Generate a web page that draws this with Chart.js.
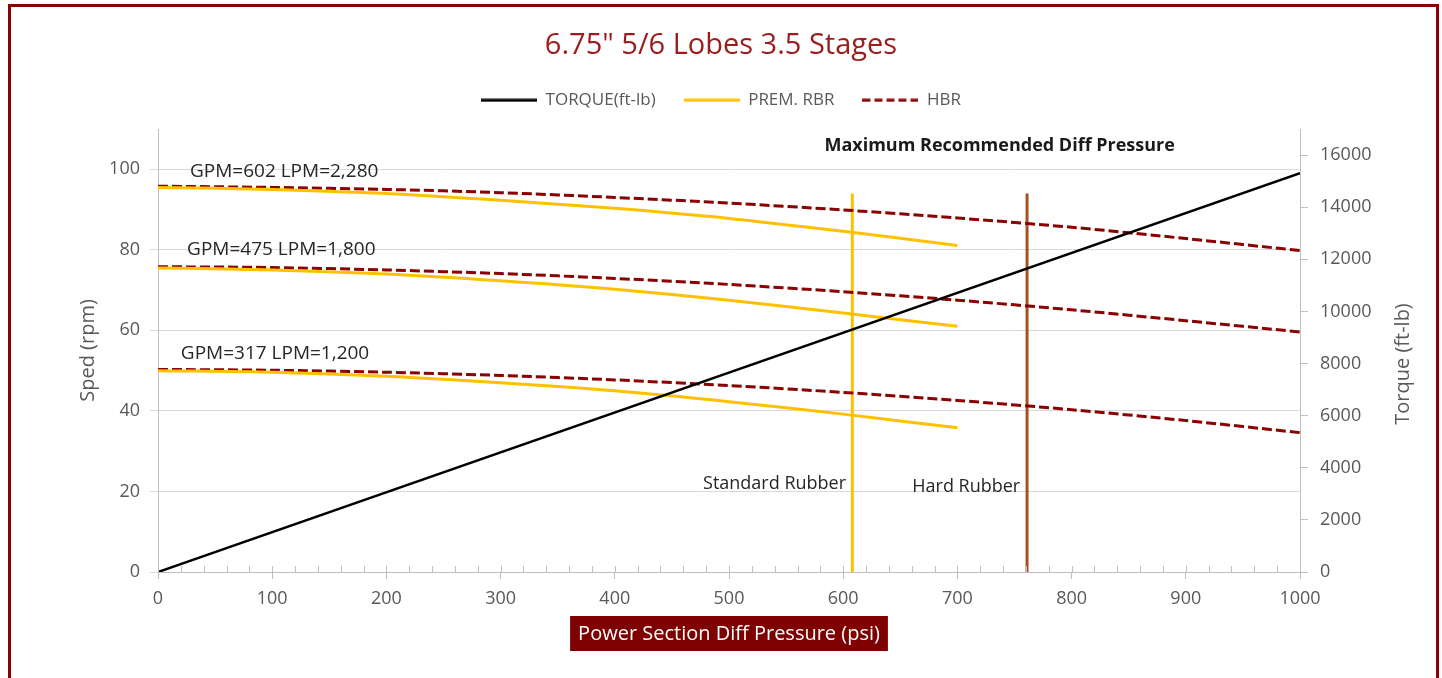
<!DOCTYPE html>
<html>
<head>
<meta charset="utf-8">
<script src="https://cdn.jsdelivr.net/npm/chart.js@4.4.1/dist/chart.umd.min.js"></script>
<style>
  html, body { margin: 0; padding: 0; background: #fff; }
  #wrap { position: relative; width: 1442px; height: 678px; overflow: hidden; }
  #chart { position: absolute; left: 0; top: 0; }
  #frame {
    position: absolute; left: 8px; top: 4px; width: 1425px; height: 700px;
    border: 3px solid #8b0000; border-bottom: none; pointer-events: none;
  }
</style>
</head>
<body>
<div id="wrap">
  <canvas id="chart" width="1442" height="678"></canvas>
  <div id="frame"></div>
</div>
<script>
/* ===== DATA ===== */
const pressShort = [0, 100, 200, 300, 400, 500, 600, 700];
const pressLong = [0, 100, 200, 300, 400, 500, 600, 700, 800, 900, 1000];

// PREM. RBR speed (rpm), 0-700 psi
const premHigh = [95.5, 95.0, 94.0, 92.3, 90.3, 87.8, 84.6, 81.1];
const premMid = [75.5, 75.0, 74.0, 72.3, 70.2, 67.5, 64.3, 61.0];
const premLow = [50.0, 49.6, 48.6, 47.0, 45.0, 42.3, 39.2, 35.8];

// HBR speed (rpm), 0-1000 psi
const hbrHigh = [95.8, 95.5, 95.0, 94.2, 93.0, 91.6, 89.9, 87.9, 85.6, 82.8, 79.8];
const hbrMid = [75.8, 75.6, 75.0, 74.1, 72.9, 71.4, 69.6, 67.5, 65.1, 62.4, 59.6];
const hbrLow = [50.3, 50.1, 49.6, 48.8, 47.7, 46.3, 44.6, 42.6, 40.3, 37.6, 34.6];

// torque (ft-lb)
const torquePress = [0, 1000];
const torqueVals = [0, 15300];

// max recommended diff pressure markers (psi)
const standardPsi = 608;
const hardPsi = 761;
const markerRpm = [0, 94];

// tick labels
const xTickVals = [0, 100, 200, 300, 400, 500, 600, 700, 800, 900, 1000];
const speedTickVals = [0, 20, 40, 60, 80, 100];
const torqueTickVals = [0, 2000, 4000, 6000, 8000, 10000, 12000, 14000, 16000];
const speedMax = 110;
const torqueMax = 17000;
const minorStep = 20;

// text notes [text, psi, rpm, align, bold]
const notes = [
  ["Maximum Recommended Diff Pressure", 737, 105.7, "center", true],
  ["GPM=602 LPM=2,280", 28, 99.5, "left", false],
  ["GPM=475 LPM=1,800", 25.5, 80.1, "left", false],
  ["GPM=317 LPM=1,200", 20, 54.3, "left", false],
  ["Standard Rubber", 602.5, 21.8, "right", false],
  ["Hard Rubber", 755, 21.1, "right", false],
];

/* ===== HELPERS ===== */
const FONT = "'Open Sans', 'DejaVu Sans', sans-serif";
const GREY = "#595959";
const GOLD = "#ffc000";
const HBR = "#8b0000";
const HBR_DASH = [10, 4];

function pts(xs, ys) {
  return xs.map((x, i) => ({ x, y: ys[i] }));
}

// small canvas used as the legend line sample
function swatch(color, width, dash) {
  const c = document.createElement("canvas");
  c.width = 56;
  c.height = 4;
  const g = c.getContext("2d");
  g.strokeStyle = color;
  g.lineWidth = width;
  g.setLineDash(dash || []);
  g.beginPath();
  g.moveTo(0, 2);
  g.lineTo(56, 2);
  g.stroke();
  return c;
}

function lineSet(label, xs, ys, color, extra) {
  return Object.assign({
    label,
    data: pts(xs, ys),
    borderColor: color,
    backgroundColor: color,
    borderWidth: 3,
    pointRadius: 0,
    tension: 0.3,
    fill: false,
    yAxisID: "y",
  }, extra || {});
}

const hbrStyle = { borderDash: HBR_DASH };

const datasets = [
  lineSet("TORQUE(ft-lb)", torquePress, torqueVals, "#000000",
    { yAxisID: "y1", tension: 0, borderWidth: 2.5, pointStyle: swatch("#000", 3) }),
  lineSet("PREM. RBR", pressShort, premHigh, GOLD, { pointStyle: swatch(GOLD, 3) }),
  lineSet("HBR", pressLong, hbrHigh, HBR, Object.assign({ pointStyle: swatch(HBR, 3, [8, 4]) }, hbrStyle)),
  lineSet("PREM. RBR mid", pressShort, premMid, GOLD),
  lineSet("HBR mid", pressLong, hbrMid, HBR, hbrStyle),
  lineSet("PREM. RBR low", pressShort, premLow, GOLD),
  lineSet("HBR low", pressLong, hbrLow, HBR, hbrStyle),
  lineSet("Standard", [standardPsi, standardPsi], markerRpm, GOLD, { tension: 0 }),
  lineSet("Hard", [hardPsi, hardPsi], markerRpm, "#a5521f", { tension: 0 }),
];
const LEGEND_IDX = [0, 1, 2];

/* ===== PLUGINS ===== */
const extras = {
  id: "extras",
  afterDraw(chart) {
    const { ctx, chartArea, scales } = chart;
    const x = scales.x, y = scales.y;
    ctx.save();

    // minor ticks on the x axis (inside)
    ctx.strokeStyle = "#bfbfbf";
    ctx.lineWidth = 1;
    for (let v = 0; v <= xTickVals[xTickVals.length - 1]; v += minorStep) {
      const px = Math.round(x.getPixelForValue(v)) + 0.5;
      ctx.beginPath();
      ctx.moveTo(px, chartArea.bottom);
      ctx.lineTo(px, chartArea.bottom - 6);
      ctx.stroke();
    }

    // notes
    ctx.textBaseline = "middle";
    notes.forEach(([t, px, py, align, bold]) => {
      ctx.font = bold ? "bold 18px " + FONT : (t.startsWith("GPM") ? "19px " : "18px ") + FONT;
      ctx.fillStyle = bold ? "#1a1a1a" : "#262626";
      ctx.textAlign = align;
      ctx.fillText(t, x.getPixelForValue(px), y.getPixelForValue(py));
    });

    // right axis title, reading bottom to top
    ctx.font = "20px " + FONT;
    ctx.fillStyle = GREY;
    ctx.textAlign = "center";
    ctx.translate(1403, 364);
    ctx.rotate(-Math.PI / 2);
    ctx.fillText("Torque (ft-lb)", 0, 0);
    ctx.setTransform(1, 0, 0, 1, 0, 0);

    // x axis title in a dark red box
    const title = "Power Section Diff Pressure (psi)";
    ctx.font = "20px " + FONT;
    const w = ctx.measureText(title).width + 16;
    const cx = (chartArea.left + chartArea.right) / 2;
    const cy = 633;
    ctx.fillStyle = "#7f0000";
    ctx.fillRect(cx - w / 2, cy - 17, w, 35);
    ctx.fillStyle = "#ffffff";
    ctx.fillText(title, cx, cy + 1);
    ctx.restore();
  },
};

/* ===== CHART ===== */
const tickFont = { family: FONT, size: 18 };
const plain = (v) => String(v);
const fixTicks = (vals) => (s) => { s.ticks = vals.map((v) => ({ value: v })); };

new Chart(document.getElementById("chart"), {
  type: "line",
  data: { datasets },
  options: {
    responsive: false,
    animation: false,
    layout: { padding: { left: 30, right: 30, top: 0, bottom: 0 } },
    plugins: {
      title: {
        display: true,
        text: '6.75" 5/6 Lobes 3.5 Stages',
        color: "#9b1c1c",
        font: { family: FONT, size: 29, weight: "normal" },
        padding: { top: 28, bottom: 1 },
      },
      subtitle: {
        display: true,
        text: "",
        weight: 500,
        font: { size: 1 },
        padding: { top: 9, bottom: 0 },
      },
      legend: {
        display: true,
        position: "top",
        labels: {
          filter: (item) => LEGEND_IDX.includes(item.datasetIndex),
          usePointStyle: true,
          pointStyleWidth: 56,
          color: GREY,
          font: { family: FONT, size: 17 },
          padding: 28,
        },
      },
      tooltip: { enabled: false },
    },
    scales: {
      x: {
        type: "linear",
        min: xTickVals[0],
        max: xTickVals[xTickVals.length - 1],
        afterBuildTicks: fixTicks(xTickVals),
        ticks: { color: GREY, font: tickFont, padding: 9, callback: plain },
        grid: { drawOnChartArea: false, color: "#bfbfbf", tickLength: 7 },
        border: { color: "#bfbfbf" },
        afterFit: (s) => { s.height = 106; },
      },
      y: {
        position: "left",
        min: 0,
        max: speedMax,
        afterBuildTicks: fixTicks(speedTickVals),
        ticks: { color: GREY, font: tickFont, padding: 10, callback: plain },
        grid: { color: "#d9d9d9", tickLength: 8 },
        border: { color: "#bfbfbf" },
        title: {
          display: true,
          text: "Sped (rpm)",
          color: GREY,
          font: { family: FONT, size: 20 },
          padding: { top: 46, bottom: 0 },
        },
        afterFit: (s) => { s.width = 128; },
      },
      y1: {
        position: "right",
        min: 0,
        max: torqueMax,
        afterBuildTicks: fixTicks(torqueTickVals),
        ticks: { color: GREY, font: tickFont, padding: 12, callback: plain },
        grid: { drawOnChartArea: false, color: "#bfbfbf", tickLength: 8 },
        border: { color: "#bfbfbf" },
        afterFit: (s) => { s.width = 112; },
      },
    },
  },
  plugins: [extras],
});
</script>
</body>
</html>
